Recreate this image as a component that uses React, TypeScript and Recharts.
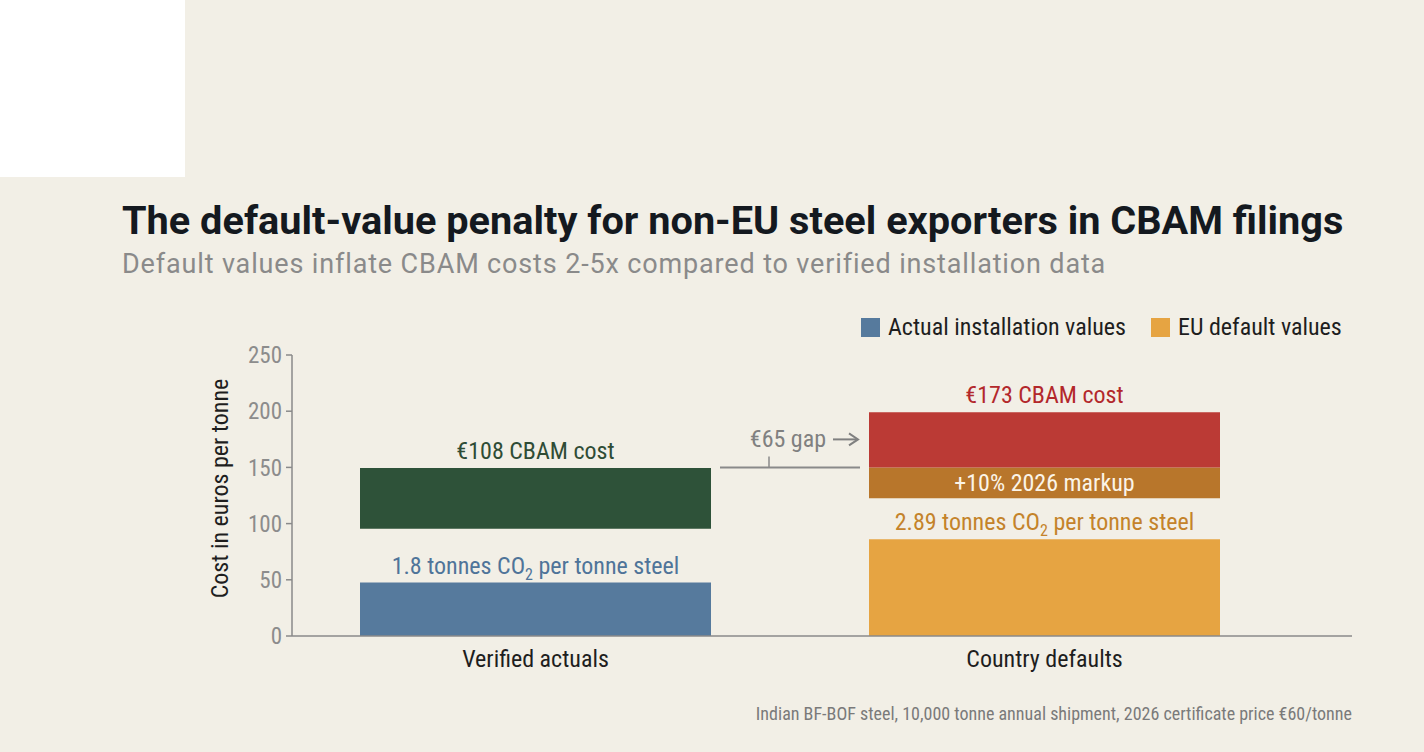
import { BarChart, Bar, XAxis, YAxis, Cell, LabelList, ReferenceLine } from "recharts";

// Categories and floating bands [from, to] in euros per tonne
const categories = ["Verified actuals", "Country defaults"];
const emissionBand = [
    [0, 47.5],
    [0, 86],
];
const markupBand = [null, [122.5, 150]];
const cbamBand = [
    [95.5, 149.5],
    [150, 199],
];

// Annotation values
const cbamCost = [108, 173];
const emissionIntensity = ["1.8", "2.89"];
const markupLabel = "+10% 2026 markup";
const yTicks = [0, 50, 100, 150, 200, 250];
const legendItems = ["Actual installation values", "EU default values"];

const COND = '"Roboto Condensed", "Liberation Sans Narrow", "Arial Narrow", "DejaVu Sans Condensed", Roboto, sans-serif';
const BG = "#f2efe6";
const AXIS = "#8a8a8a";

const emissionColors = ["#567a9d", "#e6a442"];
const emissionTextColors = ["#4f7499", "#c4832a"];
const cbamColors = ["#2e5239", "#bb3a35"];
const cbamTextColors = ["#2f4c35", "#b3282b"];
const markupColor = "#b8762b";

const BAR_SIZE = 351;
const LABEL_SIZE = 24;

const data = categories.map((name, i) => ({
    name,
    emission: emissionBand[i],
    markup: markupBand[i],
    cbam: cbamBand[i],
}));

const EmissionLabel = (props: any) => {
    const { x, y, width, index } = props;
    if (x == null || y == null) return null;
    return (
        <text x={x + width / 2} y={y - 9} textAnchor="middle" fontFamily={COND} fontSize={LABEL_SIZE} fill={emissionTextColors[index]}>
            <tspan>{`${emissionIntensity[index]} tonnes CO`}</tspan>
            <tspan fontSize={16} dy={6}>2</tspan>
            <tspan dy={-6}> per tonne steel</tspan>
        </text>
    );
};

const CbamLabel = (props: any) => {
    const { x, y, width, index } = props;
    if (x == null || y == null) return null;
    return (
        <text x={x + width / 2} y={y - 9} textAnchor="middle" fontFamily={COND} fontSize={LABEL_SIZE} fill={cbamTextColors[index]}>
            {`€${cbamCost[index]} CBAM cost`}
        </text>
    );
};

const MarkupLabel = (props: any) => {
    const { x, y, width, height } = props;
    if (x == null || y == null || !height) return null;
    return (
        <text x={x + width / 2} y={y + height / 2 + 8} textAnchor="middle" fontFamily={COND} fontSize={LABEL_SIZE} fill="#fbf4e8">
            {markupLabel}
        </text>
    );
};

// connector between the two cost bands, trimmed to the bar edges
const GapConnector = (props: any) => {
    const { x1, x2, y1 } = props;
    if (x1 == null || x2 == null) return null;
    const start = x1 + BAR_SIZE / 2 + 9;
    const end = x2 - BAR_SIZE / 2 - 9;
    const tickX = start + (end - start) * 0.35;
    const textY = y1 - 20;
    return (
        <g>
            <line x1={start} x2={end} y1={y1} y2={y1} stroke={AXIS} strokeWidth={2} />
            <line x1={tickX} x2={tickX} y1={y1 - 11} y2={y1} stroke={AXIS} strokeWidth={1.5} />
            <text x={end - 34} y={textY} textAnchor="end" fontFamily={COND} fontSize={LABEL_SIZE} fill="#808080">
                {`€${cbamCost[1] - cbamCost[0]} gap`}
            </text>
            <line x1={end - 27} x2={end - 4} y1={textY - 8} y2={textY - 8} stroke="#808080" strokeWidth={2} />
            <path d={`M ${end - 11} ${textY - 14} L ${end - 2} ${textY - 8} L ${end - 11} ${textY - 2}`} fill="none" stroke="#808080" strokeWidth={2} />
        </g>
    );
};

const YLabel = (props: any) => {
    const { viewBox } = props;
    const cx = viewBox.x + 16;
    const cy = viewBox.y + viewBox.height / 2 - 7;
    return (
        <text x={cx} y={cy} transform={`rotate(-90 ${cx} ${cy})`} textAnchor="middle" fontFamily={COND} fontSize={LABEL_SIZE} fill="#1e1e1e">
            Cost in euros per tonne
        </text>
    );
};

export default function App() {
    return (
        <div style={{ position: "fixed", left: 0, top: 0, width: 1424, height: 752, background: BG, overflow: "hidden" }}>
            <div style={{ position: "absolute", left: 0, top: 0, width: 185, height: 177, background: "#ffffff" }} />
            <div
                style={{
                    position: "absolute",
                    left: 122,
                    top: 197,
                    fontFamily: "Roboto, sans-serif",
                    fontWeight: 700,
                    fontSize: 39.7,
                    color: "#14191f",
                    whiteSpace: "nowrap",
                }}
            >
                The default-value penalty for non-EU steel exporters in CBAM filings
            </div>
            <div
                style={{
                    position: "absolute",
                    left: 122,
                    top: 248,
                    fontFamily: "Roboto, sans-serif",
                    fontSize: 27,
                    letterSpacing: 0.85,
                    color: "#8a8a8a",
                    whiteSpace: "nowrap",
                }}
            >
                Default values inflate CBAM costs 2-5x compared to verified installation data
            </div>
            <div style={{ position: "absolute", left: 861, top: 313, display: "flex", alignItems: "center", fontFamily: COND, fontSize: 24, color: "#1e1e1e" }}>
                {legendItems.map((item, i) => (
                    <div key={item} style={{ display: "flex", alignItems: "center", marginRight: i === 0 ? 25 : 0 }}>
                        <span style={{ display: "inline-block", width: 19, height: 19, background: emissionColors[i], marginRight: 8 }} />
                        <span>{item}</span>
                    </div>
                ))}
            </div>
            <div style={{ position: "absolute", right: 72, top: 703, fontFamily: COND, fontSize: 18, color: "#7a7a7a", whiteSpace: "nowrap" }}>
                Indian BF-BOF steel, 10,000 tonne annual shipment, 2026 certificate price €60/tonne
            </div>
            <div style={{ position: "absolute", left: 0, top: 0 }}>
                <BarChart
                    width={1424}
                    height={752}
                    data={data}
                    margin={{ top: 355, right: 72, bottom: 76, left: 212 }}
                    barSize={BAR_SIZE}
                    barGap={-BAR_SIZE}
                >
                    <XAxis
                        dataKey="name"
                        padding={{ left: -11, right: 53 }}
                        axisLine={{ stroke: AXIS, strokeWidth: 1.5 }}
                        tickLine={false}
                        tickSize={0}
                        tickMargin={14}
                        height={40}
                        tick={{ fontFamily: COND, fontSize: LABEL_SIZE, fill: "#1e1e1e" }}
                    />
                    <YAxis
                        type="number"
                        domain={[0, 250]}
                        ticks={yTicks}
                        width={80}
                        axisLine={{ stroke: AXIS, strokeWidth: 1.5 }}
                        tickLine={{ stroke: AXIS, strokeWidth: 1.5 }}
                        tickSize={6}
                        tickMargin={4}
                        tick={{ fontFamily: COND, fontSize: 23, fill: "#8c8c8c" }}
                        label={<YLabel />}
                    />
                    <Bar dataKey="emission" isAnimationActive={false}>
                        {data.map((d, i) => (
                            <Cell key={d.name} fill={emissionColors[i]} />
                        ))}
                        <LabelList dataKey="emission" content={<EmissionLabel />} />
                    </Bar>
                    <Bar dataKey="markup" fill={markupColor} isAnimationActive={false}>
                        <LabelList dataKey="markup" content={<MarkupLabel />} />
                    </Bar>
                    <Bar dataKey="cbam" isAnimationActive={false}>
                        {data.map((d, i) => (
                            <Cell key={d.name} fill={cbamColors[i]} />
                        ))}
                        <LabelList dataKey="cbam" content={<CbamLabel />} />
                    </Bar>
                    <ReferenceLine
                        segment={[
                            { x: categories[0], y: cbamBand[1][0] },
                            { x: categories[1], y: cbamBand[1][0] },
                        ]}
                        shape={<GapConnector />}
                    />
                </BarChart>
            </div>
        </div>
    );
}
